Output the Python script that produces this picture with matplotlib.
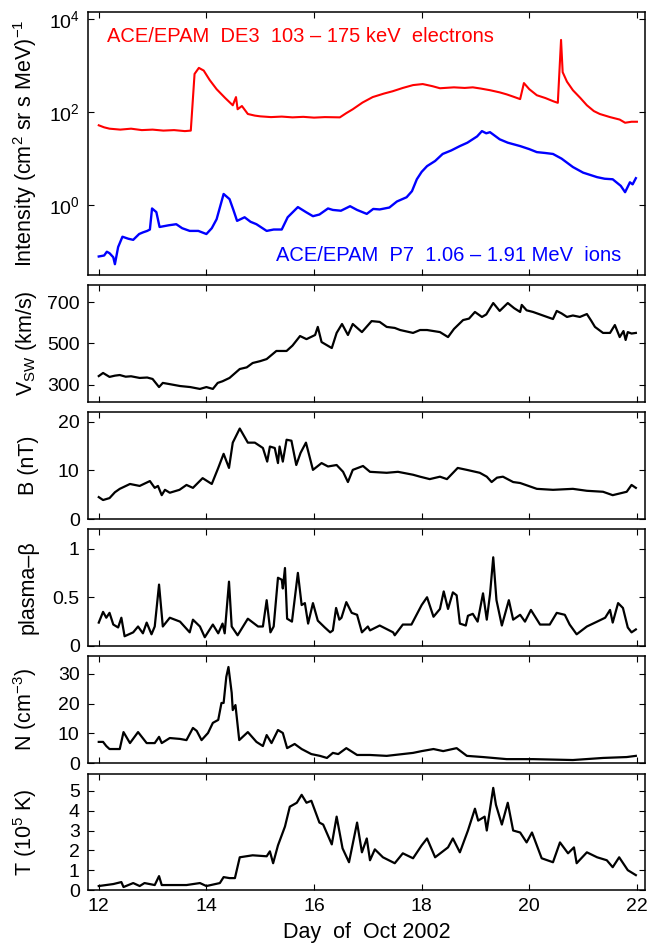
import matplotlib.pyplot as plt
from matplotlib.ticker import NullLocator, LogFormatterMathtext

plt.rcParams['font.family'] = ['Liberation Sans', 'DejaVu Sans']
plt.rcParams['mathtext.fontset'] = 'custom'
plt.rcParams['mathtext.rm'] = 'Liberation Sans'
plt.rcParams['mathtext.it'] = 'Liberation Sans:italic'
plt.rcParams['mathtext.bf'] = 'Liberation Sans:bold'

# ---- ACE/EPAM particle intensities ----
elec_day = [12.0, 12.1, 12.2, 12.4, 12.6, 12.8, 13.0, 13.2, 13.4, 13.6, 13.71, 13.78, 13.86,
            13.95, 14.06, 14.19, 14.35, 14.49, 14.55, 14.58, 14.66, 14.77, 14.9, 15.0, 15.2,
            15.4, 15.6, 15.8, 16.0, 16.2, 16.48, 16.6, 16.72, 16.9, 17.09, 17.3, 17.46, 17.65,
            17.84, 18.02, 18.2, 18.34, 18.6, 18.8, 18.95, 19.1, 19.27, 19.45, 19.58, 19.7,
            19.83, 19.9, 20.0, 20.14, 20.3, 20.45, 20.53, 20.59, 20.62, 20.7, 20.81, 20.95,
            21.07, 21.2, 21.31, 21.5, 21.68, 21.78, 21.9, 22.0]
elec_flux = [52, 47, 44, 42, 44, 41, 42, 40, 41, 39, 40, 660, 890,
             780, 490, 310, 200, 140, 210, 115, 135, 91, 84, 81, 78,
             80, 77, 79, 76, 78, 77, 95, 115, 160, 210, 250, 280, 330,
             380, 400, 360, 325, 340, 330, 340, 320, 295, 265, 240, 215,
             190, 420, 310, 230, 200, 170, 158, 3550, 720, 450, 295, 200,
             140, 105, 91, 78, 69, 59, 62, 62]

ion_day = [12.0, 12.1, 12.15, 12.2, 12.27, 12.3, 12.36, 12.44, 12.55, 12.64, 12.75, 12.82,
           12.9, 12.95, 12.99, 13.07, 13.13, 13.3, 13.44, 13.55, 13.69, 13.85, 14.0, 14.1,
           14.19, 14.32, 14.43, 14.5, 14.57, 14.71, 14.82, 14.93, 15.12, 15.25, 15.4, 15.51,
           15.7, 15.85, 15.98, 16.1, 16.26, 16.35, 16.5, 16.67, 16.8, 16.98, 17.1, 17.22,
           17.4, 17.54, 17.72, 17.82, 17.91, 18.0, 18.1, 18.25, 18.39, 18.55, 18.71, 18.85,
           19.03, 19.12, 19.2, 19.27, 19.45, 19.6, 19.83, 20.0, 20.14, 20.3, 20.44, 20.6,
           20.81, 21.0, 21.26, 21.4, 21.55, 21.7, 21.78, 21.87, 21.92, 21.98]
ion_flux = [0.079, 0.083, 0.1, 0.093, 0.076, 0.054, 0.126, 0.21, 0.19, 0.18, 0.24, 0.26,
            0.28, 0.30, 0.85, 0.71, 0.34, 0.37, 0.39, 0.32, 0.28, 0.28, 0.24, 0.32,
            0.5, 1.74, 1.35, 0.8, 0.46, 0.55, 0.44, 0.39, 0.28, 0.30, 0.30, 0.55,
            0.91, 0.71, 0.58, 0.63, 0.85, 0.79, 0.76, 0.95, 0.79, 0.65, 0.83, 0.81,
            0.89, 1.2, 1.48, 2.0, 3.6, 5.2, 6.9, 8.9, 12.6, 15, 18.6, 22,
            30, 39, 35, 37, 26, 22, 18.6, 16, 13.8, 13.2, 12.6, 10,
            6.6, 5.0, 4.0, 3.7, 3.6, 2.6, 1.9, 3.1, 2.8, 3.8]

# ---- solar wind speed (km/s) ----
v_day = [12.0, 12.08, 12.2, 12.3, 12.39, 12.5, 12.6, 12.76, 12.9, 13.0, 13.12, 13.19, 13.3,
         13.51, 13.7, 13.88, 14.0, 14.12, 14.21, 14.3, 14.43, 14.62, 14.75, 14.86, 15.0,
         15.12, 15.3, 15.49, 15.6, 15.74, 15.86, 16.02, 16.07, 16.14, 16.33, 16.42, 16.52,
         16.63, 16.72, 16.89, 17.07, 17.22, 17.35, 17.5, 17.6, 17.84, 17.97, 18.1, 18.34,
         18.49, 18.6, 18.77, 18.88, 18.99, 19.12, 19.2, 19.33, 19.45, 19.6, 19.72, 19.83,
         19.86, 19.95, 20.07, 20.2, 20.33, 20.44, 20.51, 20.6, 20.7, 20.81, 20.94, 21.07,
         21.15, 21.22, 21.37, 21.5, 21.59, 21.68, 21.75, 21.79, 21.83, 21.9, 21.98]
v_sw = [343, 358, 339, 345, 348, 340, 342, 334, 336, 329, 290, 310, 305,
        295, 290, 281, 290, 281, 310, 318, 334, 377, 385, 406, 415,
        425, 464, 464, 490, 536, 521, 541, 580, 507, 478, 551, 594,
        541, 594, 555, 608, 604, 580, 575, 565, 551, 565, 565, 555,
        531, 570, 613, 620, 652, 628, 640, 695, 657, 695, 670, 652,
        686, 660, 652, 640, 628, 618, 657, 645, 628, 635, 628, 642,
        610, 580, 551, 551, 589, 531, 560, 517, 555, 548, 551]

# ---- magnetic field magnitude (nT) ----
b_day = [12.0, 12.08, 12.2, 12.3, 12.39, 12.58, 12.76, 12.95, 13.04, 13.1, 13.17, 13.23,
         13.32, 13.5, 13.63, 13.75, 13.93, 14.1, 14.22, 14.32, 14.42, 14.49, 14.62, 14.77,
         14.9, 15.05, 15.13, 15.18, 15.27, 15.33, 15.36, 15.42, 15.49, 15.58, 15.67, 15.75,
         15.85, 15.98, 16.14, 16.26, 16.42, 16.54, 16.63, 16.72, 16.91, 17.04, 17.35, 17.56,
         17.84, 17.97, 18.15, 18.34, 18.47, 18.67, 18.84, 19.08, 19.21, 19.3, 19.4, 19.51,
         19.7, 19.83, 20.14, 20.44, 20.81, 21.07, 21.37, 21.55, 21.81, 21.9, 21.98]
b_mag = [4.5, 3.9, 4.3, 5.5, 6.2, 7.2, 6.8, 7.8, 6.4, 6.8, 4.9, 6.0,
         5.4, 6.0, 7.0, 6.4, 8.4, 7.2, 10.5, 13.4, 10.5, 15.7, 18.6, 15.7,
         15.7, 14.6, 11.8, 14.9, 14.6, 11.5, 14.9, 11.8, 16.3, 16.1, 11.1, 13.6,
         15.7, 10.1, 11.5, 10.8, 11.1, 9.7, 7.6, 10.1, 10.9, 9.7, 9.5, 9.7,
         9.1, 8.7, 8.2, 8.7, 8.2, 10.5, 10.1, 9.5, 8.7, 7.6, 8.5, 8.7,
         7.6, 7.4, 6.2, 6.0, 6.2, 5.8, 5.6, 4.9, 5.6, 7.0, 6.4]

# ---- plasma beta ----
beta_day = [12.0, 12.08, 12.14, 12.2, 12.27, 12.36, 12.42, 12.48, 12.64, 12.73, 12.82, 12.89,
            12.98, 13.04, 13.12, 13.19, 13.32, 13.51, 13.69, 13.75, 13.88, 13.97, 14.12,
            14.22, 14.3, 14.34, 14.42, 14.47, 14.58, 14.77, 14.96, 15.05, 15.12, 15.19,
            15.25, 15.33, 15.4, 15.42, 15.46, 15.5, 15.59, 15.7, 15.77, 15.83, 15.89, 15.98,
            16.07, 16.2, 16.3, 16.35, 16.41, 16.47, 16.51, 16.6, 16.7, 16.8, 16.89, 17.0,
            17.04, 17.22, 17.47, 17.5, 17.65, 17.81, 18.0, 18.1, 18.22, 18.34, 18.41, 18.49,
            18.58, 18.65, 18.71, 18.82, 18.86, 18.95, 19.04, 19.14, 19.21, 19.27, 19.33,
            19.39, 19.49, 19.62, 19.7, 19.83, 19.92, 20.03, 20.2, 20.38, 20.51, 20.66, 20.75,
            20.88, 21.07, 21.26, 21.41, 21.5, 21.55, 21.65, 21.74, 21.83, 21.9, 21.98]
beta = [0.24, 0.35, 0.29, 0.34, 0.22, 0.19, 0.29, 0.10, 0.14, 0.20, 0.13, 0.24,
        0.12, 0.20, 0.63, 0.20, 0.29, 0.25, 0.14, 0.27, 0.20, 0.09, 0.22,
        0.13, 0.23, 0.13, 0.66, 0.20, 0.11, 0.28, 0.20, 0.20, 0.47, 0.14,
        0.20, 0.70, 0.68, 0.59, 0.80, 0.28, 0.25, 0.75, 0.42, 0.44, 0.23, 0.44,
        0.26, 0.19, 0.14, 0.16, 0.39, 0.27, 0.29, 0.45, 0.34, 0.32, 0.14, 0.20,
        0.16, 0.21, 0.14, 0.11, 0.22, 0.22, 0.42, 0.50, 0.30, 0.38, 0.56, 0.38,
        0.55, 0.52, 0.23, 0.21, 0.31, 0.33, 0.25, 0.54, 0.27, 0.53, 0.91,
        0.47, 0.21, 0.47, 0.27, 0.32, 0.25, 0.37, 0.22, 0.22, 0.34, 0.32, 0.22,
        0.12, 0.20, 0.25, 0.29, 0.37, 0.24, 0.44, 0.39, 0.19, 0.14, 0.17]

# ---- proton density (cm^-3) ----
n_day = [12.0, 12.08, 12.14, 12.2, 12.39, 12.46, 12.58, 12.73, 12.89, 13.04, 13.12, 13.17,
         13.32, 13.51, 13.63, 13.75, 13.82, 13.91, 14.03, 14.12, 14.22, 14.28, 14.32, 14.37,
         14.41, 14.47, 14.49, 14.54, 14.61, 14.77, 14.93, 15.05, 15.12, 15.21, 15.33, 15.42,
         15.5, 15.64, 15.77, 15.95, 16.11, 16.24, 16.35, 16.45, 16.6, 16.8, 17.04, 17.35,
         17.84, 18.0, 18.22, 18.4, 18.65, 18.84, 19.14, 19.33, 19.58, 20.07, 20.81, 21.37,
         21.81, 21.98]
n_den = [7.1, 7.1, 5.7, 4.7, 4.7, 10.4, 6.7, 10.4, 6.7, 6.7, 8.8, 6.7,
         8.4, 8.1, 7.7, 11.8, 10.8, 7.7, 10.1, 13.5, 14.5, 20.2, 20.2, 29.0,
         32.3, 23.6, 17.8, 19.5, 7.7, 10.4, 7.1, 5.7, 9.4, 6.7, 11.1, 10.1,
         5.0, 6.4, 4.7, 3.0, 2.4, 1.7, 3.4, 3.0, 5.0, 2.7, 2.7, 2.4,
         3.4, 4.0, 4.7, 4.0, 5.0, 2.4, 2.0, 1.7, 1.3, 1.3, 1.0, 1.7,
         2.0, 2.4]

# ---- proton temperature (10^5 K) ----
t_day = [12.0, 12.27, 12.42, 12.46, 12.64, 12.76, 12.85, 13.04, 13.12, 13.17, 13.63, 13.88,
         14.0, 14.25, 14.32, 14.43, 14.53, 14.62, 14.86, 15.12, 15.18, 15.24, 15.33, 15.46,
         15.55, 15.68, 15.77, 15.86, 15.95, 16.1, 16.17, 16.33, 16.42, 16.53, 16.65, 16.8,
         16.89, 16.98, 17.04, 17.13, 17.28, 17.5, 17.65, 17.84, 18.0, 18.1, 18.25, 18.49,
         18.58, 18.71, 18.86, 18.99, 19.05, 19.17, 19.21, 19.33, 19.38, 19.49, 19.6, 19.7,
         19.83, 19.95, 20.05, 20.23, 20.44, 20.57, 20.72, 20.83, 20.88, 21.07, 21.26, 21.44,
         21.55, 21.67, 21.83, 21.98]
t_temp = [0.2, 0.3, 0.4, 0.15, 0.35, 0.2, 0.35, 0.25, 0.7, 0.25, 0.25, 0.35,
          0.2, 0.35, 0.65, 0.6, 0.6, 1.65, 1.75, 1.7, 1.95, 1.35, 2.25, 3.2,
          4.2, 4.4, 4.8, 4.4, 4.5, 3.4, 3.3, 2.3, 3.7, 2.1, 1.4, 3.4,
          1.9, 2.6, 1.5, 2.05, 1.65, 1.35, 1.85, 1.6, 2.25, 2.6, 1.65, 2.15,
          2.6, 1.9, 3.0, 4.1, 3.5, 3.7, 3.0, 5.15, 4.3, 3.3, 4.4, 3.0,
          2.9, 2.4, 2.9, 1.6, 1.4, 2.4, 1.85, 2.15, 1.35, 1.9, 1.65, 1.5,
          1.15, 1.65, 1.0, 0.75]

day_ticks = [12, 14, 16, 18, 20, 22]

W, H = 647, 946
fig = plt.figure(figsize=(W / 100, H / 100), dpi=100)

# panel boxes in pixels (top, bottom), stacked with small gaps
left_px, right_px = 88, 645
boxes = [(12, 275), (285, 402), (412, 519), (529, 646), (656, 763), (774, 890)]
axes = []
for top, bot in boxes:
    ax = fig.add_axes([left_px / W, 1 - bot / H, (right_px - left_px) / W, (bot - top) / H])
    axes.append(ax)

fs_tick = 14
fs_label = 15.5
lw = 1.6
for ax in axes:
    ax.set_xlim(11.8, 22.15)
    ax.set_xticks(day_ticks)
    ax.tick_params(direction='in', top=True, right=True, length=4, width=0.8,
                   labelsize=fs_tick, pad=6)
    for sp in ax.spines.values():
        sp.set_linewidth(1.1)
    ax.yaxis.set_label_coords(-0.088, 0.5)
for ax in axes[:-1]:
    ax.set_xticklabels([])

# intensities
ax = axes[0]
ax.plot(elec_day, elec_flux, color='#ff0000', lw=1.5)
ax.plot(ion_day, ion_flux, color='#0000ff', lw=1.7)
ax.set_yscale('log')
ax.set_ylim(10 ** -1.5, 10 ** 4.15)
ax.set_yticks([1, 100, 10000])
ax.yaxis.set_major_formatter(LogFormatterMathtext())
ax.yaxis.set_minor_locator(NullLocator())
ax.set_ylabel(r'Intensity (cm$^2$ sr s MeV)$^{-1}$', fontsize=fs_label)
ax.text(0.034, 0.905, 'ACE/EPAM  DE3  103 – 175 keV  electrons', color='#ff0000',
        fontsize=14.5, transform=ax.transAxes, ha='left', va='center')
ax.text(0.957, 0.076, 'ACE/EPAM  P7  1.06 – 1.91 MeV  ions', color='#0000ff',
        fontsize=14.5, transform=ax.transAxes, ha='right', va='center')

# solar wind speed
ax = axes[1]
ax.plot(v_day, v_sw, color='k', lw=lw)
ax.set_ylim(218, 782)
ax.set_yticks([300, 500, 700])
ax.set_ylabel(r'V$_{\rm SW}$ (km/s)', fontsize=fs_label)

# field magnitude
ax = axes[2]
ax.plot(b_day, b_mag, color='k', lw=lw)
ax.set_ylim(0, 22)
ax.set_yticks([0, 10, 20])
ax.set_ylabel('B (nT)', fontsize=fs_label)

# plasma beta
ax = axes[3]
ax.plot(beta_day, beta, color='k', lw=lw)
ax.set_ylim(0, 1.2)
ax.set_yticks([0, 0.5, 1])
ax.set_yticklabels(['0', '0.5', '1'])
ax.set_ylabel('plasma–β', fontsize=fs_label)

# density
ax = axes[4]
ax.plot(n_day, n_den, color='k', lw=lw)
ax.set_ylim(0, 36)
ax.set_yticks([0, 10, 20, 30])
ax.set_ylabel(r'N (cm$^{-3}$)', fontsize=fs_label)

# temperature
ax = axes[5]
ax.plot(t_day, t_temp, color='k', lw=lw)
ax.set_ylim(0, 5.85)
ax.set_yticks([0, 1, 2, 3, 4, 5])
ax.set_ylabel(r'T (10$^5$ K)', fontsize=fs_label)
ax.set_xticklabels([str(d) for d in day_ticks])
ax.set_xlabel('Day  of  Oct 2002', fontsize=fs_label, labelpad=5)

fig.savefig('out.png', dpi=100)
